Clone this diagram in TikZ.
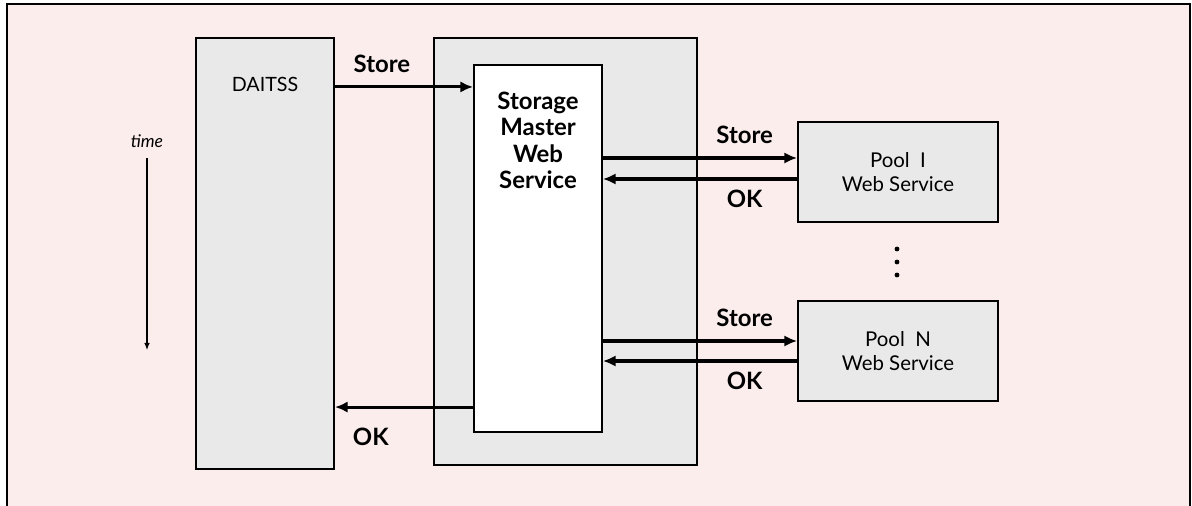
\documentclass[tikz,border=0pt]{standalone}
\usepackage{fontspec}
\setmainfont{Lato}
\usetikzlibrary{arrows.meta}
\definecolor{bgpink}{HTML}{FCEDED}
\definecolor{boxgray}{HTML}{E9E9E9}
\begin{document}
\begin{tikzpicture}[x=0.025cm,y=-0.025cm,>={Latex[length=9pt,width=8pt]},auto]
  \tikzstyle{block}=[draw,rectangle,line width=1.3pt,fill=boxgray,inner sep=0pt,font=\fontsize{14.5}{17.5}\selectfont,align=center]
  \tikzstyle{msg}=[->,line width=2.2pt]
  \tikzstyle{lbl}=[font=\fontsize{17}{19}\selectfont\bfseries,inner sep=3pt]
  \def\dpo{14}	% v-offset of store arrow to pool
  \useasboundingbox (0,0) rectangle (1192,506);
  % background frame, open at the bottom
  \fill[bgpink] (7,4) rectangle (1190,506);
  \draw[line width=1.2pt] (7,506) -- (7,4) -- (1190,4) -- (1190,506);
  % time axis
  \node[font=\fontsize{12.5}{14}\selectfont\itshape] (time) at (147,141) {time};
  \coordinate (tend) at (147,350);
  \draw[-{Latex[length=5pt,width=4pt]},line width=0.8pt] (time.south) ++(0,6) -- (tend);
  % boxes
  \node[block,minimum width=3.45cm,minimum height=10.78cm] (daitss) at (265,253.5) {};
  \node[block,minimum width=6.58cm,minimum height=10.68cm] (sm) at (565.5,251.5) {};
  \node[block,fill=white,minimum width=3.2cm,minimum height=9.18cm] (smws) at (538,248.5) {};
  \node[block,minimum width=5cm,minimum height=2.48cm] (pool1) at (898,172) {Pool\ \ I\\Web Service};
  \node[block,minimum width=5cm,minimum height=2.48cm] (poolN) at (898,351) {Pool\ \ N\\Web Service};
  \node[font=\fontsize{14}{17}\selectfont] (dname) at (265,84) {DAITSS};
  \node[lbl,anchor=north,align=center,font=\fontsize{17}{18.5}\selectfont\bfseries] (smname) at (538,88) {Storage\\Master\\Web\\Service};
  % dots between pools
  \foreach \i in {0,1,2} \fill (897,249+13*\i) circle (2.4);
  % messages
  \path (smws.north west) + (0,23) coordinate (in1);
  \path (smws.south west) + (0,-26) coordinate (out1);
  \draw[msg] (daitss.east |- in1) -- node[lbl,pos=.34,above=6pt]{Store} (in1);
  \draw[msg] (out1) -- node[lbl,pos=.74,below=11pt]{OK} (daitss.east |- out1);
  \path (pool1.west) + (0,-\dpo) coordinate (p1s);
  \path (pool1.west) + (0,7) coordinate (p1o);
  \draw[msg] (smws.east |- p1s) -- node[lbl,pos=.73,above=6pt]{Store} (p1s);
  \draw[msg] (p1o) -- node[lbl,pos=.27,below=3.5pt]{OK} (smws.east |- p1o);
  \path (poolN.west) + (0,-10) coordinate (pNs);
  \path (poolN.west) + (0,10) coordinate (pNo);
  \draw[msg] (smws.east |- pNs) -- node[lbl,pos=.73,above=6pt]{Store} (pNs);
  \draw[msg] (pNo) -- node[lbl,pos=.27,below=3.5pt]{OK} (smws.east |- pNo);
\end{tikzpicture}
\end{document}
